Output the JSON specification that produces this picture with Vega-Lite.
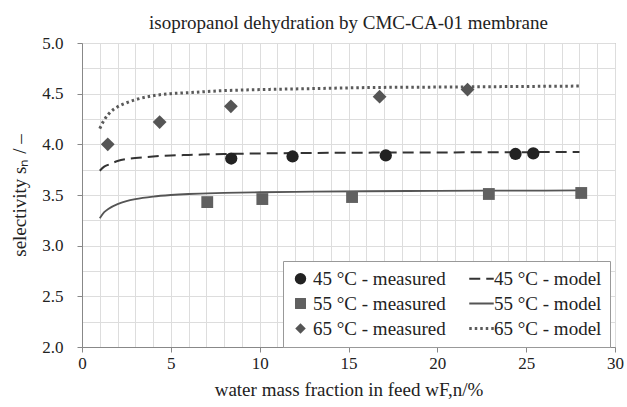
{
  "$schema": "https://vega.github.io/schema/vega-lite/v6.json",
  "width": 533,
  "height": 304,
  "autosize": "none",
  "padding": {"left": 82, "top": 43, "right": 12, "bottom": 60},
  "background": "white",
  "config": {
    "font": "Liberation Serif",
    "view": {"stroke": "#999999", "strokeWidth": 1},
    "axis": {"labelFont": "Liberation Serif", "titleFont": "Liberation Serif"},
    "legend": {"labelFont": "Liberation Serif"}
  },
  "title": {
    "text": "isopropanol dehydration by CMC-CA-01 membrane",
    "fontSize": 19,
    "fontWeight": "normal",
    "font": "Liberation Serif",
    "color": "#222222",
    "anchor": "middle",
    "offset": 1
  },
  "data": {
    "values": [
      {"x": 8.4, "s": 3.86, "series": "45 °C - measured"},
      {"x": 11.85, "s": 3.88, "series": "45 °C - measured"},
      {"x": 17.1, "s": 3.89, "series": "45 °C - measured"},
      {"x": 24.4, "s": 3.905, "series": "45 °C - measured"},
      {"x": 25.4, "s": 3.91, "series": "45 °C - measured"},
      {"x": 7.05, "s": 3.43, "series": "55 °C - measured"},
      {"x": 10.15, "s": 3.46, "series": "55 °C - measured"},
      {"x": 15.2, "s": 3.48, "series": "55 °C - measured"},
      {"x": 22.9, "s": 3.51, "series": "55 °C - measured"},
      {"x": 28.1, "s": 3.52, "series": "55 °C - measured"},
      {"x": 1.45, "s": 4.0, "series": "65 °C - measured"},
      {"x": 4.37, "s": 4.22, "series": "65 °C - measured"},
      {"x": 8.38, "s": 4.375, "series": "65 °C - measured"},
      {"x": 16.75, "s": 4.47, "series": "65 °C - measured"},
      {"x": 21.7, "s": 4.54, "series": "65 °C - measured"},

      {"x": 1.0, "s": 3.74, "series": "45 °C - model"},
      {"x": 1.25, "s": 3.78, "series": "45 °C - model"},
      {"x": 1.5, "s": 3.80, "series": "45 °C - model"},
      {"x": 2.0, "s": 3.835, "series": "45 °C - model"},
      {"x": 2.5, "s": 3.855, "series": "45 °C - model"},
      {"x": 3.0, "s": 3.865, "series": "45 °C - model"},
      {"x": 4.0, "s": 3.88, "series": "45 °C - model"},
      {"x": 5.0, "s": 3.89, "series": "45 °C - model"},
      {"x": 6.0, "s": 3.895, "series": "45 °C - model"},
      {"x": 8.0, "s": 3.905, "series": "45 °C - model"},
      {"x": 10.0, "s": 3.91, "series": "45 °C - model"},
      {"x": 13.0, "s": 3.915, "series": "45 °C - model"},
      {"x": 16.0, "s": 3.918, "series": "45 °C - model"},
      {"x": 20.0, "s": 3.92, "series": "45 °C - model"},
      {"x": 24.0, "s": 3.922, "series": "45 °C - model"},
      {"x": 28.0, "s": 3.925, "series": "45 °C - model"},

      {"x": 1.0, "s": 3.27, "series": "55 °C - model"},
      {"x": 1.25, "s": 3.33, "series": "55 °C - model"},
      {"x": 1.5, "s": 3.365, "series": "55 °C - model"},
      {"x": 2.0, "s": 3.41, "series": "55 °C - model"},
      {"x": 2.5, "s": 3.44, "series": "55 °C - model"},
      {"x": 3.0, "s": 3.46, "series": "55 °C - model"},
      {"x": 4.0, "s": 3.485, "series": "55 °C - model"},
      {"x": 5.0, "s": 3.50, "series": "55 °C - model"},
      {"x": 6.0, "s": 3.51, "series": "55 °C - model"},
      {"x": 8.0, "s": 3.52, "series": "55 °C - model"},
      {"x": 10.0, "s": 3.527, "series": "55 °C - model"},
      {"x": 13.0, "s": 3.533, "series": "55 °C - model"},
      {"x": 16.0, "s": 3.537, "series": "55 °C - model"},
      {"x": 20.0, "s": 3.541, "series": "55 °C - model"},
      {"x": 24.0, "s": 3.543, "series": "55 °C - model"},
      {"x": 28.0, "s": 3.545, "series": "55 °C - model"},

      {"x": 1.0, "s": 4.155, "series": "65 °C - model"},
      {"x": 1.25, "s": 4.24, "series": "65 °C - model"},
      {"x": 1.5, "s": 4.30, "series": "65 °C - model"},
      {"x": 2.0, "s": 4.37, "series": "65 °C - model"},
      {"x": 2.5, "s": 4.41, "series": "65 °C - model"},
      {"x": 3.0, "s": 4.44, "series": "65 °C - model"},
      {"x": 4.0, "s": 4.48, "series": "65 °C - model"},
      {"x": 5.0, "s": 4.50, "series": "65 °C - model"},
      {"x": 6.0, "s": 4.51, "series": "65 °C - model"},
      {"x": 8.0, "s": 4.53, "series": "65 °C - model"},
      {"x": 10.0, "s": 4.54, "series": "65 °C - model"},
      {"x": 13.0, "s": 4.55, "series": "65 °C - model"},
      {"x": 16.0, "s": 4.56, "series": "65 °C - model"},
      {"x": 20.0, "s": 4.565, "series": "65 °C - model"},
      {"x": 24.0, "s": 4.57, "series": "65 °C - model"},
      {"x": 28.0, "s": 4.575, "series": "65 °C - model"}
    ]
  },
  "encoding": {
    "x": {
      "field": "x",
      "type": "quantitative",
      "scale": {"domain": [0, 30], "nice": false, "zero": false},
      "axis": {
        "title": "water mass fraction in feed wF,n/%",
        "titleFont": "Liberation Serif",
        "titleFontSize": 19,
        "titleFontWeight": "normal",
        "titleColor": "#222222",
        "titlePadding": 9,
        "values": [0,1,2,3,4,5,6,7,8,9,10,11,12,13,14,15,16,17,18,19,20,21,22,23,24,25,26,27,28,29,30],
        "labelExpr": "datum.value % 5 === 0 ? datum.label : ''",
        "labelFont": "Liberation Serif",
        "labelFontSize": 17,
        "labelColor": "#222222",
        "labelPadding": 3,
        "domainColor": "#888888",
        "tickColor": {"condition": {"test": "datum.value % 5 === 0", "value": "#888888"}, "value": "transparent"},
        "tickSize": 5,
        "gridColor": "#dddddd",
        "labelFlush": false
      }
    },
    "y": {
      "field": "s",
      "type": "quantitative",
      "scale": {"domain": [2, 5], "nice": false, "zero": false},
      "axis": {
        "title": "selectivity sₙ / –",
        "titleFont": "Liberation Serif",
        "titleFontSize": 19,
        "titleFontWeight": "normal",
        "titleColor": "#222222",
        "titlePadding": 12,
        "values": [2, 2.25, 2.5, 2.75, 3, 3.25, 3.5, 3.75, 4, 4.25, 4.5, 4.75, 5],
        "labelExpr": "(datum.value * 2) % 1 === 0 ? format(datum.value, '.1f') : ''",
        "labelFont": "Liberation Serif",
        "labelFontSize": 17,
        "labelColor": "#222222",
        "labelPadding": 14,
        "domainColor": "#888888",
        "tickColor": {"condition": {"test": "(datum.value * 2) % 1 === 0", "value": "#888888"}, "value": "transparent"},
        "tickSize": 5,
        "gridColor": "#dddddd"
      }
    },
    "color": {
      "field": "series",
      "type": "nominal",
      "scale": {"domain": ["45 °C - measured", "55 °C - measured", "65 °C - measured", "45 °C - model", "55 °C - model", "65 °C - model"], "range": ["#222222", "#606060", "#555555", "#333333", "#555555", "#5a5a5a"]},
      "legend": {
        "title": null,
        "orient": "none",
        "legendX": 201,
        "legendY": 218,
        "columns": 2,
        "columnPadding": 17,
        "rowPadding": 5,
        "padding": 8,
        "fillColor": "white",
        "strokeColor": "#999999",
        "labelFont": "Liberation Serif",
        "labelFontSize": 19,
        "labelColor": "#222222",
        "labelLimit": 300,
        "labelOffset": 3,
        "symbolType": "circle",
        "symbolSize": 600,
        "encode": {
          "symbols": {
            "update": {
              "shape": {"signal": "datum.value == '45 °C - measured' ? 'circle' : datum.value == '55 °C - measured' ? 'square' : datum.value == '65 °C - measured' ? 'diamond' : 'stroke'"},
              "size": {"signal": "datum.value == '45 °C - measured' ? 130 : datum.value == '55 °C - measured' ? 120 : datum.value == '65 °C - measured' ? 110 : 600"},
              "strokeWidth": {"signal": "datum.value == '45 °C - model' ? 2 : datum.value == '55 °C - model' ? 1.8 : datum.value == '65 °C - model' ? 3 : 0"},
              "strokeDash": {"signal": "datum.value == '45 °C - model' ? [11, 6] : datum.value == '65 °C - model' ? [2.5, 3] : [1, 0]"},
              "stroke": {"scale": "color", "field": "value"},
              "fill": {"scale": "color", "field": "value"},
              "opacity": {"value": 1}
            }
          }
        }
      }
    }
  },
  "layer": [
    {
      "transform": [{"filter": "datum.series == '45 °C - model'"}],
      "mark": {"type": "line", "strokeWidth": 2, "strokeDash": [11, 6], "interpolate": "monotone"}
    },
    {
      "transform": [{"filter": "datum.series == '55 °C - model'"}],
      "mark": {"type": "line", "strokeWidth": 1.8, "interpolate": "monotone"}
    },
    {
      "transform": [{"filter": "datum.series == '65 °C - model'"}],
      "mark": {"type": "line", "strokeWidth": 3, "strokeDash": [2.5, 3], "interpolate": "monotone"}
    },
    {
      "transform": [{"filter": "datum.series == '45 °C - measured'"}],
      "mark": {"type": "point", "filled": true, "opacity": 1, "shape": "circle", "size": 150}
    },
    {
      "transform": [{"filter": "datum.series == '55 °C - measured'"}],
      "mark": {"type": "point", "filled": true, "opacity": 1, "shape": "square", "size": 140}
    },
    {
      "transform": [{"filter": "datum.series == '65 °C - measured'"}],
      "mark": {"type": "point", "filled": true, "opacity": 1, "shape": "diamond", "size": 190}
    }
  ]
}
